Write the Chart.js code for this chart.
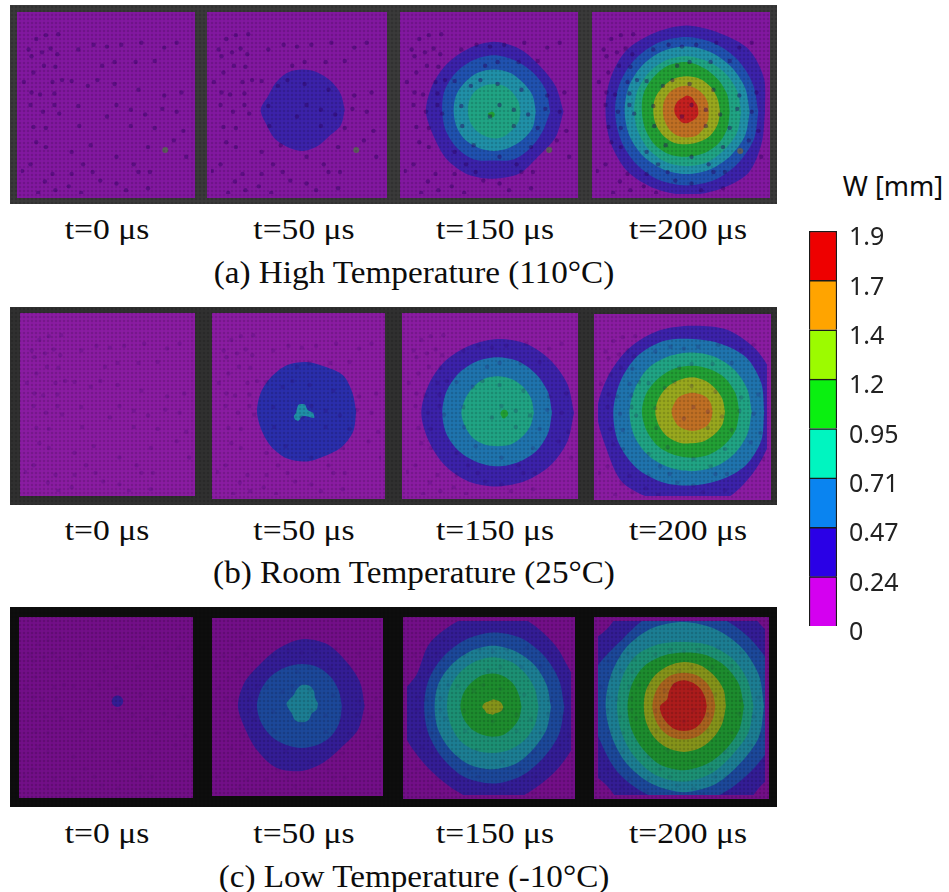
<!DOCTYPE html>
<html>
<head>
<meta charset="utf-8">
<style>
  html, body { margin: 0; padding: 0; background: #fff; }
  body { position: relative; width: 949px; height: 892px; overflow: hidden; }
  canvas { position: absolute; }
  .frame { position: absolute; left: 10px; width: 767px; }
  .mesh { background: radial-gradient(rgba(0,0,0,.14) 30%, transparent 60%) 0 0/4px 4px; }
  .cap { position: absolute; font-family: "Liberation Serif", serif; color: #0c0c0c; white-space: nowrap; line-height: 30px; }
</style>
</head>
<body>
<script src="https://cdn.jsdelivr.net/npm/chart.js@4"></script>
<script>
// radii in reference px, clockwise from east, 16 spokes
const a50_indigo = [44,43,39,41,43,42,42,41,44,39,40,42,42,42,42,43];
const a150_indigo = [73,70,66,70,70,71,70,68,71,70,70,71,73,71,68,70];
const a150_blue = [59,55,54,54,51,54,54,54,54,56,57,58,59,58,58,59];
const a150_teal = [44,44,42,41,41,41,42,42,42,43,43,44,44,44,43,44];
const a150_sea = [28,28,27,28,28,27,27,27,27,28,29,29,29,29,28,28];
const a150_green = [3,3,3,3,3,3,3,3,4,4,3,3,3,3,3,3];
const a200_indigo = [82,85,91,88,87,87,88,86,85,87,90,89,90,89,92,88];
const a200_blue = [75,76,76,77,77,77,76,75,75,76,77,78,78,77,76,75];
const a200_teal = [66,66,65,65,65,65,65,65,65,66,67,68,68,67,66,66];
const a200_sea = [57,57,56,57,57,57,56,55,55,56,57,58,58,57,57,57];
const a200_green = [45,46,47,47,47,48,48,47,47,49,50,52,52,49,47,46];
const a200_lime = [35,35,35,34,34,35,35,35,35,36,36,37,37,37,36,35];
const a200_orange = [23,24,25,27,27,27,26,25,25,26,27,27,27,26,25,24];
const a200_red = [12,13,13,13,14,14,13,13,13,13,13,13,15,14,12,12];

const b50_indigo = [52,53,52,50,52,53,52,51,52,52,52,53,52,51,54,52];
const b50_teal = [12,14,5,4,4,9,10,9,6,6,7,9,9,9,7,7];
const b150_indigo = [80,79,78,77,77,78,78,78,80,78,77,76,77,78,78,79];
const b150_blue = [57,57,57,56,56,56,57,58,58,58,58,58,58,58,57,57];
const b150_sea = [38,37,36,36,35,36,37,37,38,37,37,38,38,38,38,38];
const b150_green = [4,4,4,4,5,5,4,4,4,4,4,4,4,4,4,4];
const b200_indigo = [90,87,90,97,100,100,104,98,100,96,94,92,90,93,93,92];
const b200_blue = [75,78,79,77,77,80,83,84,83,82,82,80,76,77,80,78];
const b200_sea = [62,62,62,62,62,63,65,66,66,65,65,63,62,62,62,62];
const b200_green = [49,49,48,48,48,49,51,52,53,52,50,49,48,48,49,49];
const b200_lime = [34,34,33,33,33,35,37,38,39,38,37,36,36,35,34,34];
const b200_orange = [21,21,21,20,20,20,21,21,22,21,21,20,20,20,21,21];

const c0_indigo = [6,6,6,6,6,6,6,6,6,6,6,6,6,6,6,6];
const c50_indigo = [66,64,60,63,68,70,66,64,67,65,62,65,70,70,66,66];
const c50_blue = [42,43,44,44,44,44,45,46,47,46,45,44,44,44,43,42];
const c50_teal = [17,17,15,19,20,19,15,15,16,13,12,15,19,20,18,15];
const c150_indigo = [105,95,94,97,105,96,93,96,105,87,94,97,105,97,92,90];
const c150_blue = [75,75,75,78,80,79,75,73,72,73,74,76,78,78,76,75];
const c150_teal = [61,61,61,64,65,65,63,62,61,62,62,63,64,63,62,61];
const c150_sea = [48,48,48,48,48,49,49,48,48,49,50,51,52,51,49,48];
const c150_green = [30,30,30,31,31,31,32,33,34,34,34,35,35,34,32,30];
const c150_lime = [11,10,8,7,8,8,9,9,11,10,8,7,8,8,9,10];
const c200_indigo = [130,130,116,130,130,130,116,130,130,130,114,130,130,130,117,130];
const c200_blue = [100,100,98,100,100,100,98,95,100,100,95,100,100,100,99,100];
const c200_teal = [84,85,84,88,90,88,85,82,82,83,86,88,88,87,86,85];
const c200_sea = [73,73,72,76,79,78,74,71,70,71,73,70,67,69,71,72];
const c200_green = [63,63,63,65,67,66,62,60,59,59,59,57,56,58,60,62];
const c200_lime = [44,44,45,47,48,47,45,43,42,43,44,45,46,46,45,45];
const c200_orange = [33,33,34,35,35,35,34,33,33,33,34,35,35,35,34,33];
const c200_red = [24,24,25,26,26,26,25,25,25,19,22,26,27,26,25,24];

// the darker mesh dots, read from the first plate
const dotX = [43,56,33,25,48,39,28,55,41,53,30,20,50,60,70,28,37,52,27,52,77,40,57,30,43,78,33,43,70,90,82,27,50,70,18,42,67,92,100,117,140,152,53,35,80,107,127,150,77,93,107,122,143,167,180,102,115,137,157,87,97,115,140,167,185,117,132,147,165,180,107,132,157,117,135,150,177,190,187];
const dotY = [20,19,24,35,34,38,42,40,52,53,59,69,69,67,68,80,82,81,93,93,94,100,102,116,117,115,132,137,142,135,155,155,165,165,162,173,178,163,172,175,163,163,182,185,185,195,182,180,35,30,32,30,28,33,28,52,48,48,47,73,67,71,77,83,80,93,98,103,97,100,105,115,117,147,155,137,130,147,120];

const gaugeX = [168,359,552,743];
const gaugeY = [152,152,152,153];

const legendTicks = ["0","0.24","0.47","0.71","0.95","1.2","1.4","1.7","1.9"];
const legendColors = ["#d400f0","#2a00e6","#0a84f0","#00f5c0","#0af010","#9cfb00","#ffa400","#ee0000"];

const timeLabels = ["t=0 μs","t=50 μs","t=150 μs","t=200 μs"];
const rowTitles = ["(a) High Temperature (110°C)","(b) Room Temperature (25°C)","(c) Low Temperature (-10°C)"];

const colors = { indigo:"#3c22aa", deep:"#2a2eac", blue:"#2052b0", steel:"#1f74ae", teal:"#2090a8", sea:"#20a484", green:"#22a035", lime:"#98a81e", orange:"#c07024", red:"#c42020" };

const rows = [
  { top:5, bottom:204, frame:"#3a3a3a", plate:"#8218a0", dot:.42, dim:1, capY:229, titleY:273 },
  { top:307, bottom:505, frame:"#303030", plate:"#8a1ca2", dot:.18, dim:1, capY:530, titleY:573 },
  { top:607, bottom:807, frame:"#0e0e0e", plate:"#730f88", dot:.08, dim:.88, capY:833, titleY:877 }
];
const capX = [107,304,495,688];

const panels = [
  { row:0, box:[17,12,195,198], rings:[] },
  { row:0, box:[207,12,387,198], rings:[["indigo",303,110,a50_indigo]] },
  { row:0, box:[400,12,578,198], rings:[["indigo",494,112,a150_indigo],["blue",494,112,a150_blue],["teal",494,112,a150_teal],["sea",494,112,a150_sea],["green",492,115,a150_green]] },
  { row:0, box:[592,12,770,198], rings:[["indigo",687,112,a200_indigo],["blue",687,112,a200_blue],["teal",687,112,a200_teal],["sea",687,112,a200_sea],["green",687,112,a200_green],["lime",687,112,a200_lime],["orange",687,112,a200_orange],["red",687,110,a200_red]] },
  { row:1, box:[20,313,195,496], rings:[] },
  { row:1, box:[212,313,385,499], rings:[["deep",307,412,b50_indigo],["teal",302,413,b50_teal]] },
  { row:1, box:[402,313,578,499], rings:[["indigo",498,413,b150_indigo],["steel",498,413,b150_blue],["sea",498,413,b150_sea],["green",505,414,b150_green]] },
  { row:1, box:[594,314,771,500], rings:[["indigo",693,412,b200_indigo],["steel",693,412,b200_blue],["sea",693,412,b200_sea],["green",693,412,b200_green],["lime",693,412,b200_lime],["orange",693,412,b200_orange]] },
  { row:2, box:[19,617,193,798], rings:[["indigo",118,701,c0_indigo]] },
  { row:2, box:[212,618,383,796], rings:[["indigo",302,706,c50_indigo],["blue",302,706,c50_blue],["teal",302,703,c50_teal]] },
  { row:2, box:[403,617,575,799], rings:[["indigo",493,707,c150_indigo],["blue",493,707,c150_blue],["teal",493,707,c150_teal],["sea",493,707,c150_sea],["green",493,707,c150_green],["lime",493,707,c150_lime]] },
  { row:2, box:[594,617,769,799], rings:[["indigo",684,706,c200_indigo],["blue",684,706,c200_blue],["teal",684,706,c200_teal],["sea",684,706,c200_sea],["green",684,706,c200_green],["lime",684,706,c200_lime],["orange",684,706,c200_orange],["red",684,706,c200_red]] }
];

function dim(hex, f){
  const n = parseInt(hex.slice(1), 16);
  return `rgb(${(n>>16)*f|0},${((n>>8)&255)*f|0},${(n&255)*f|0})`;
}

function ringPoints(cx, cy, radii){
  const pts = radii.map((r,i) => {
    const a = i * Math.PI / 8;
    return { x: cx + r*Math.cos(a), y: cy + r*Math.sin(a) };
  });
  pts.push(pts[0]);
  return pts;
}

function addCanvas(left, top, w, h){
  const c = document.createElement("canvas");
  c.width = w; c.height = h;
  c.style.left = left + "px";
  c.style.top = top + "px";
  c.style.width = w + "px";
  c.style.height = h + "px";
  document.body.appendChild(c);
  return c;
}

function addText(txt, x, y, size, stretch, family){
  const d = document.createElement("div");
  d.className = "cap";
  d.textContent = txt;
  d.style.left = x + "px";
  d.style.top = (y - 15) + "px";
  d.style.fontSize = size + "px";
  d.style.transform = `translateX(-50%) scaleX(${stretch})`;
  if(family) d.style.fontFamily = family;
  document.body.appendChild(d);
}

rows.forEach((r,i) => {
  const f = document.createElement("div");
  f.className = "frame";
  f.style.top = r.top + "px";
  f.style.height = (r.bottom - r.top) + "px";
  f.style.background = r.frame;
  document.body.appendChild(f);
  capX.forEach((x,j) => addText(timeLabels[j], x, r.capY, 30, 1.12));
  addText(rowTitles[i], 414, r.titleY, 31, 1.07);
});

panels.forEach((p,n) => {
  const r = rows[p.row];
  const [x0,y0,x1,y1] = p.box;
  const canvas = addCanvas(x0, y0, x1-x0, y1-y0);
  canvas.style.background = r.plate;
  const datasets = p.rings.map((ring,k) => ({
    data: ringPoints(ring[1], ring[2], ring[3]),
    showLine: true,
    fill: "shape",
    tension: .3,
    borderWidth: 0,
    pointRadius: 0,
    backgroundColor: dim(colors[ring[0]], r.dim),
    order: 20 - k
  }));
  datasets.push({
    data: dotX.map((x,k) => ({ x: x - 17 + x0, y: dotY[k] + y0 })),
    pointRadius: 2.2,
    borderWidth: 0,
    backgroundColor: `rgba(45,0,95,${r.dot})`,
    order: 1
  });
  if(p.row === 0){
    datasets.push({
      data: [{ x: gaugeX[n], y: gaugeY[n] }],
      pointRadius: 3,
      borderWidth: 0,
      backgroundColor: "#5e5e5e",
      order: 0
    });
  }
  new Chart(canvas, {
    type: "scatter",
    data: { datasets },
    options: {
      responsive: false,
      animation: false,
      layout: { padding: 0 },
      plugins: { legend: { display: false }, tooltip: { enabled: false } },
      scales: {
        x: { type: "linear", display: false, min: x0, max: x1 },
        y: { type: "linear", display: false, min: y0, max: y1, reverse: true }
      }
    }
  });
});

// mesh of the panel frames, laid over the plates
rows.forEach(r => {
  const m = document.createElement("div");
  m.className = "frame mesh";
  m.style.top = r.top + "px";
  m.style.height = (r.bottom - r.top) + "px";
  document.body.appendChild(m);
});

// colour bar
addText("W [mm]", 893, 186, 27, 1, '"Noto Sans", sans-serif');

const barCanvas = addCanvas(809, 212, 140, 444);
new Chart(barCanvas, {
  type: "bar",
  data: {
    labels: ["W"],
    datasets: legendColors.map((col,i) => ({
      data: [[i, i+1]],
      backgroundColor: col,
      borderColor: "#1a1a1a",
      borderWidth: 1.5,
      grouped: false,
      barPercentage: 1,
      categoryPercentage: 1
    }))
  },
  options: {
    responsive: false,
    animation: false,
    layout: { padding: { top: 5, bottom: 30, left: 0, right: 0 } },
    plugins: { legend: { display: false }, tooltip: { enabled: false } },
    scales: {
      x: { display: false },
      y: {
        position: "right",
        min: 0,
        max: 8,
        afterFit(scale){ scale.width = 112; },
        grid: { display: false },
        border: { display: false },
        ticks: {
          stepSize: 1,
          padding: 4,
          labelOffset: 7,
          color: "#222",
          font: { family: "Noto Sans", size: 25 },
          callback: v => legendTicks[v]
        }
      }
    }
  }
});
</script>
</body>
</html>
